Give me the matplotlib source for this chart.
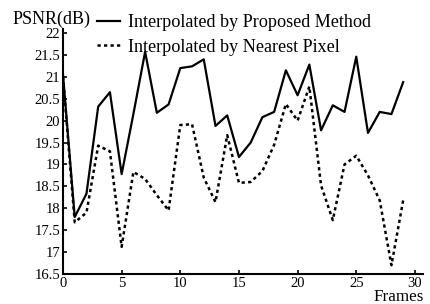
import matplotlib

matplotlib.use("Agg")
import matplotlib.pyplot as plt  # noqa: E402

frames = list(range(30))
proposed = [21.05, 17.8, 18.33, 20.32, 20.65, 18.78, 20.15, 21.57, 20.18, 20.37,
            21.2, 21.24, 21.4, 19.88, 20.12, 19.17, 19.5, 20.08, 20.2, 21.15,
            20.58, 21.28, 19.78, 20.35, 20.2, 21.46, 19.72, 20.2, 20.15, 20.88]
nearest = [21.0, 17.68, 17.9, 19.43, 19.3, 17.12, 18.83, 18.67, 18.3, 17.95,
           19.9, 19.92, 18.7, 18.14, 19.67, 18.58, 18.6, 18.85, 19.45, 20.38,
           20.0, 20.78, 18.52, 17.73, 19.0, 19.2, 18.75, 18.18, 16.7, 18.18]
yticks = [16.5, 17, 17.5, 18, 18.5, 19, 19.5, 20, 20.5, 21, 21.5, 22]
xticks = [0, 5, 10, 15, 20, 25, 30]

plt.rcParams["font.family"] = ["Liberation Serif", "DejaVu Serif"]

fig = plt.figure(figsize=(4.30, 3.04), dpi=100)
ax = fig.add_axes([0.1465, 0.0987, 0.8375, 0.807])
ax.plot(frames, proposed, color="black", lw=1.6, label="Interpolated by Proposed Method")
ax.plot(frames, nearest, color="black", lw=1.8, ls=(0, (1.3, 1.3)),
        label="Interpolated by Nearest Pixel")
ax.set_xlim(0, 30.7)
ax.set_ylim(16.5, 22.1)
ax.set_xticks(xticks)
ax.set_yticks(yticks)
ax.set_yticklabels([f"{v:g}" for v in yticks])
ax.spines["top"].set_visible(False)
ax.spines["right"].set_visible(False)
for s in ("left", "bottom"):
    ax.spines[s].set_linewidth(1.5)
ax.tick_params(direction="in", length=3, width=1.2, labelsize=10.5, pad=2)

fig.text(0.03, 0.922, "PSNR(dB)", fontsize=13, ha="left", va="baseline")
fig.text(0.985, 0.01, "Frames", fontsize=12.3, ha="right", va="baseline")
fig.legend(loc="upper left", bbox_to_anchor=(0.195, 0.995), frameon=False,
           fontsize=13.1, handlelength=1.3, handletextpad=0.4, labelspacing=0.4,
           borderaxespad=0.3)

fig.savefig("out.png", dpi=100)
plt.close(fig)
